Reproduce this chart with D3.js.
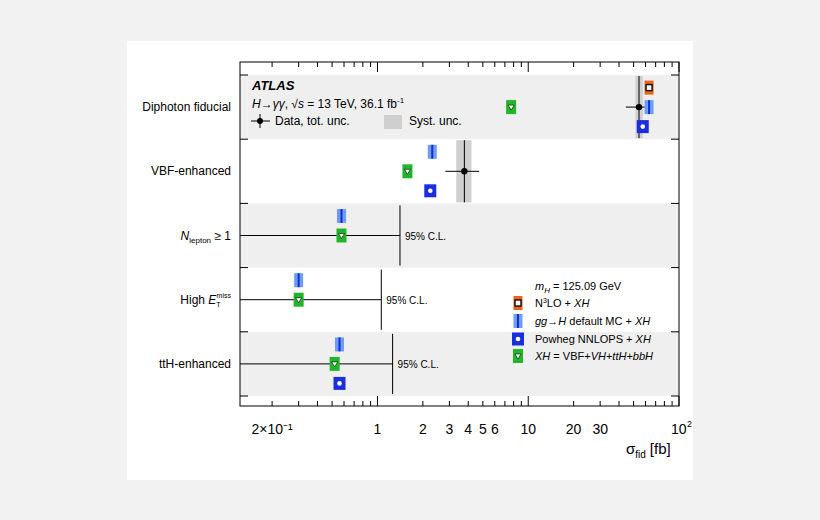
<!DOCTYPE html>
<html><head><meta charset="utf-8">
<script src="https://cdn.jsdelivr.net/npm/d3@7"></script>
<style>body{margin:0;background:#f2f2f2;font-family:"Liberation Sans",Arial,sans-serif}</style>
</head><body>
<svg id="c" width="820" height="520"></svg>
<script>
// categories (rows)
var categories = ["Diphoton fiducial", "VBF-enhanced", "Nlepton", "MET", "ttH-enhanced"];
// measured values: [central, totLo, totHi, systLo, systHi]; null = limit only
var dataPts = [[54.3, 44.4, 65, 51.5, 57.5], [3.77, 2.82, 4.73, 3.33, 4.2], null, null, null];
var limits = [null, null, 1.41, 1.06, 1.26];
// predictions
var n3lo = [63.3, null, null, null, null];
var ggH = [63.3, 2.31, 0.577, 0.30, 0.56];
var powheg = [57.5, 2.24, null, null, 0.56];
var xh = [7.7, 1.58, 0.577, 0.30, 0.52];
var tickLabels = [[0.2, "2×10⁻¹"], [1, "1"], [2, "2"], [3, "3"], [4, "4"], [5, "5"], [6, "6"], [10, "10"], [20, "20"], [30, "30"]];

var svg = d3.select("#c");
svg.append("rect").attr("x", 127).attr("y", 41).attr("width", 566).attr("height", 439).attr("fill", "#fff");

var L = 240, R = 679, T = 62, B = 406;
var x = d3.scaleLog().domain([0.1225, 100]).range([L, R]);
var y = d3.scaleBand().domain(categories).range([75, 396]);
var bw = y.bandwidth();
function cy(i) { return y(categories[i]) + bw / 2; }

// bands
categories.forEach(function (c, i) {
  if (i % 2 == 0) svg.append("rect").attr("x", L).attr("y", y(c)).attr("width", R - L).attr("height", bw).attr("fill", "#efefef");
});

// data
dataPts.forEach(function (d, i) {
  if (!d) return;
  var t = y(categories[i]);
  svg.append("rect").attr("x", x(d[3])).attr("y", t + 1).attr("width", x(d[4]) - x(d[3])).attr("height", bw - 2).attr("fill", "#cfcfcf");
  svg.append("line").attr("x1", x(d[0])).attr("x2", x(d[0])).attr("y1", t + 1).attr("y2", t + bw - 1).attr("stroke", "#000");
  svg.append("line").attr("x1", x(d[1])).attr("x2", x(d[2])).attr("y1", cy(i)).attr("y2", cy(i)).attr("stroke", "#000");
  svg.append("circle").attr("cx", x(d[0])).attr("cy", cy(i)).attr("r", 3.2).attr("fill", "#000");
});
limits.forEach(function (v, i) {
  if (!v) return;
  var t = y(categories[i]);
  svg.append("line").attr("x1", x(v)).attr("x2", x(v)).attr("y1", t + 2).attr("y2", t + bw - 2).attr("stroke", "#000");
  svg.append("line").attr("x1", L).attr("x2", x(v)).attr("y1", cy(i)).attr("y2", cy(i)).attr("stroke", "#000");
  svg.append("text").attr("x", x(v) + 5).attr("y", cy(i) + 4).attr("font-size", 10).text("95% C.L.");
});

// markers
function mkN3lo(g, cx, cyy) {
  g.append("rect").attr("x", cx - 4.5).attr("y", cyy - 7).attr("width", 9).attr("height", 14).attr("fill", "#e8641e");
  g.append("rect").attr("x", cx - 3).attr("y", cyy - 3).attr("width", 6).attr("height", 6).attr("fill", "#fff").attr("stroke", "#000").attr("stroke-width", 1.3);
}
function mkGg(g, cx, cyy) {
  g.append("rect").attr("x", cx - 4.5).attr("y", cyy - 7).attr("width", 9).attr("height", 14).attr("fill", "#6f9cf5");
  g.append("line").attr("x1", cx).attr("x2", cx).attr("y1", cyy - 7).attr("y2", cyy + 7).attr("stroke", "#1030d0").attr("stroke-width", 2);
}
function mkPw(g, cx, cyy) {
  g.append("rect").attr("x", cx - 6).attr("y", cyy - 6.5).attr("width", 12).attr("height", 13).attr("fill", "#1a2ee0");
  g.append("circle").attr("cx", cx).attr("cy", cyy).attr("r", 2.3).attr("fill", "#fff");
}
function mkXh(g, cx, cyy) {
  g.append("rect").attr("x", cx - 5).attr("y", cyy - 7).attr("width", 10).attr("height", 14).attr("fill", "#21b52a");
  g.append("path").attr("d", "M" + (cx - 3) + "," + (cyy - 2) + "L" + (cx + 3) + "," + (cyy - 2) + "L" + cx + "," + (cyy + 3) + "Z").attr("fill", "#fff").attr("stroke", "#000").attr("stroke-width", 0.6);
}
var off = 19.5;
n3lo.forEach(function (v, i) { if (v) mkN3lo(svg, x(v), cy(i) - off); });
ggH.forEach(function (v, i) { if (v) mkGg(svg, x(v), i == 0 ? cy(i) : cy(i) - off); });
powheg.forEach(function (v, i) { if (v) mkPw(svg, x(v), cy(i) + off); });
xh.forEach(function (v, i) { if (v) mkXh(svg, x(v), cy(i)); });

// frame and axes
svg.append("rect").attr("x", L).attr("y", T).attr("width", R - L).attr("height", B - T).attr("fill", "none").attr("stroke", "#000");
var ticks = [];
for (var e = -1; e < 2; e++) for (var m = 1; m < 10; m++) { var v = m * Math.pow(10, e); if (v >= 0.1225 && v <= 100) ticks.push(v); }
ticks.push(100);
ticks.forEach(function (v) {
  var major = (v == 1 || v == 10 || v == 100);
  var len = major ? 10 : 5;
  svg.append("line").attr("x1", x(v)).attr("x2", x(v)).attr("y1", B).attr("y2", B - len).attr("stroke", "#000");
  svg.append("line").attr("x1", x(v)).attr("x2", x(v)).attr("y1", T).attr("y2", T + len).attr("stroke", "#000");
});
tickLabels.forEach(function (t) {
  svg.append("text").attr("x", x(t[0])).attr("y", 434).attr("text-anchor", "middle").attr("font-size", 14).text(t[1]);
});
svg.append("text").attr("x", x(100) - 8).attr("y", 434).attr("font-size", 14).text("10");
svg.append("text").attr("x", x(100) + 8).attr("y", 427).attr("font-size", 9).text("2");
var bounds = y.domain().map(function (c) { return y(c); }).concat([396]);
bounds.forEach(function (b) {
  svg.append("line").attr("x1", L).attr("x2", L + 8).attr("y1", b).attr("y2", b).attr("stroke", "#000");
  svg.append("line").attr("x1", R).attr("x2", R - 8).attr("y1", b).attr("y2", b).attr("stroke", "#000");
});

// row labels
var lab = svg.append("g").attr("font-size", 12).attr("text-anchor", "end");
lab.append("text").attr("x", 231).attr("y", cy(0) + 4).text("Diphoton fiducial");
lab.append("text").attr("x", 231).attr("y", cy(1) + 4).text("VBF-enhanced");
var t3 = lab.append("text").attr("x", 231).attr("y", cy(2) + 4);
t3.append("tspan").attr("font-style", "italic").text("N");
t3.append("tspan").attr("font-size", 8).attr("dy", 3).text("lepton");
t3.append("tspan").attr("dy", -3).text(" ≥ 1");
var t4 = lab.append("text").attr("x", 231).attr("y", cy(3) + 4);
t4.append("tspan").text("High ");
t4.append("tspan").attr("font-style", "italic").text("E");
t4.append("tspan").attr("font-size", 7).attr("dy", 3).text("T");
t4.append("tspan").attr("font-size", 7).attr("dy", -9).attr("dx", -4).text("miss");
t4.append("tspan").attr("dy", 6).text("");
lab.append("text").attr("x", 231).attr("y", cy(4) + 4).text("ttH-enhanced");

// header
svg.append("text").attr("x", 252).attr("y", 90).attr("font-size", 13).attr("font-weight", "bold").attr("font-style", "italic").text("ATLAS");
var h = svg.append("text").attr("x", 252).attr("y", 108).attr("font-size", 12);
h.append("tspan").attr("font-style", "italic").text("H");
h.append("tspan").text("→");
h.append("tspan").attr("font-style", "italic").text("γγ");
h.append("tspan").text(", √");
h.append("tspan").attr("font-style", "italic").text("s");
h.append("tspan").text(" = 13 TeV,  36.1 fb");
h.append("tspan").attr("font-size", 8).attr("dy", -5).text("-1");
svg.append("line").attr("x1", 251).attr("x2", 270).attr("y1", 121).attr("y2", 121).attr("stroke", "#000");
svg.append("line").attr("x1", 260).attr("x2", 260).attr("y1", 114).attr("y2", 128).attr("stroke", "#000");
svg.append("circle").attr("cx", 260).attr("cy", 121).attr("r", 3).attr("fill", "#000");
svg.append("text").attr("x", 275).attr("y", 125).attr("font-size", 12).text("Data, tot. unc.");
svg.append("rect").attr("x", 384).attr("y", 115).attr("width", 18).attr("height", 14).attr("fill", "#cfcfcf");
svg.append("text").attr("x", 409).attr("y", 125).attr("font-size", 12).text("Syst. unc.");

// legend
var lg = svg.append("g").attr("font-size", 11);
var mh = lg.append("text").attr("x", 535).attr("y", 290);
mh.append("tspan").attr("font-style", "italic").text("m");
mh.append("tspan").attr("font-style", "italic").attr("font-size", 8).attr("dy", 3).text("H");
mh.append("tspan").attr("dy", -3).text(" = 125.09 GeV");
mkN3lo(lg, 518, 303); mkGg(lg, 518, 321); mkPw(lg, 518, 339); mkXh(lg, 518, 356);
var l1 = lg.append("text").attr("x", 535).attr("y", 307);
l1.append("tspan").text("N"); l1.append("tspan").attr("font-size", 7).attr("dy", -4).text("3");
l1.append("tspan").attr("dy", 4).text("LO + "); l1.append("tspan").attr("font-style", "italic").text("XH");
var l2 = lg.append("text").attr("x", 535).attr("y", 325);
l2.append("tspan").attr("font-style", "italic").text("gg");
l2.append("tspan").text("→"); l2.append("tspan").attr("font-style", "italic").text("H");
l2.append("tspan").text(" default MC + "); l2.append("tspan").attr("font-style", "italic").text("XH");
var l3 = lg.append("text").attr("x", 535).attr("y", 343);
l3.append("tspan").text("Powheg NNLOPS + "); l3.append("tspan").attr("font-style", "italic").text("XH");
var l4 = lg.append("text").attr("x", 535).attr("y", 360);
l4.append("tspan").attr("font-style", "italic").text("XH");
l4.append("tspan").text(" = VBF+"); l4.append("tspan").attr("font-style", "italic").text("VH");
l4.append("tspan").text("+"); l4.append("tspan").attr("font-style", "italic").text("ttH");
l4.append("tspan").text("+"); l4.append("tspan").attr("font-style", "italic").text("bbH");

// x title
var xt = svg.append("text").attr("x", 626).attr("y", 454).attr("font-size", 15);
xt.append("tspan").text("σ");
xt.append("tspan").attr("font-size", 10).attr("dy", 4).text("fid");
xt.append("tspan").attr("dy", -4).attr("dx", 4).text("[fb]");
</script>
</body></html>
